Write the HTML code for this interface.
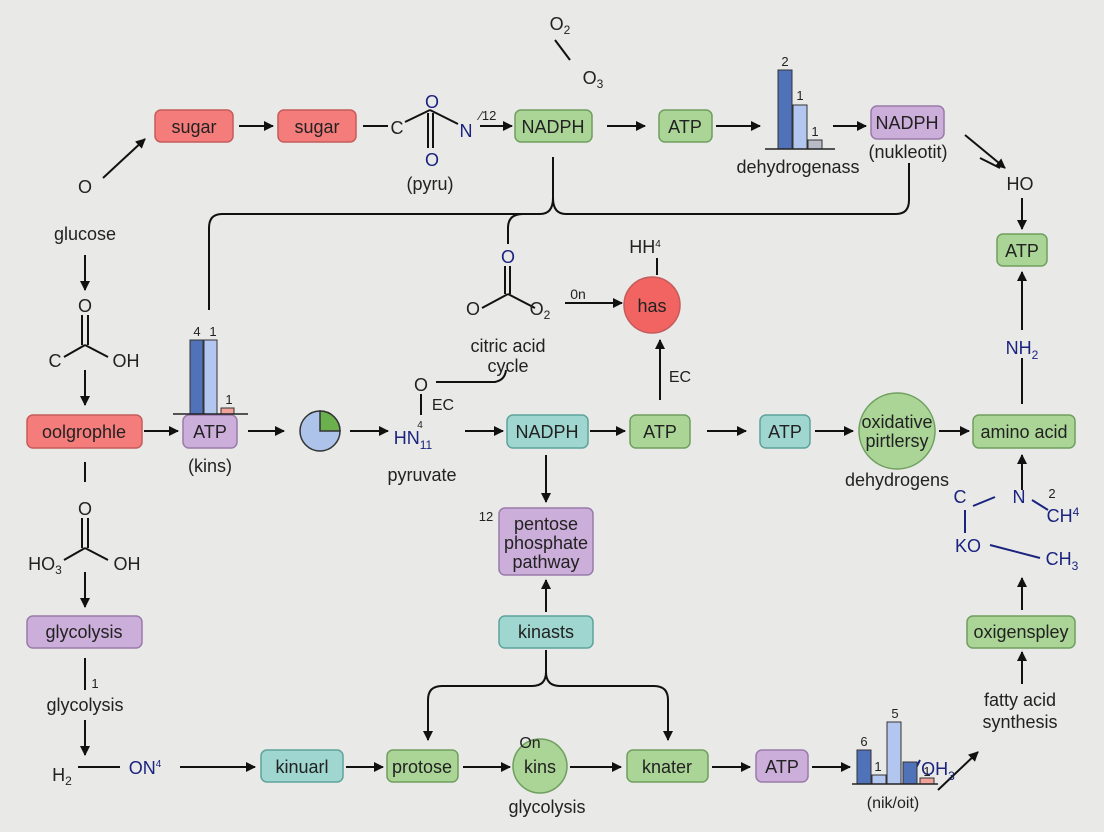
<!DOCTYPE html>
<html><head><meta charset="utf-8"><style>
html,body{margin:0;padding:0;background:#e9e9e8;}
svg{display:block}
text{font-family:"Liberation Sans",sans-serif;fill:#222;}
.b{fill:#1a237e}
</style></head><body>
<svg width="1104" height="832" viewBox="0 0 1104 832" xmlns="http://www.w3.org/2000/svg">
<defs>
<marker id="a" markerWidth="10" markerHeight="10" refX="9" refY="5" orient="auto" markerUnits="userSpaceOnUse"><path d="M0,0 L10,5 L0,10 z" fill="#111"/></marker>
</defs>
<rect width="1104" height="832" fill="#e9e9e8"/>
<g stroke="#111" stroke-width="2" fill="none">
<line x1="103" y1="178" x2="145" y2="139" marker-end="url(#a)"/>
<line x1="239" y1="126" x2="273" y2="126" marker-end="url(#a)"/>
<line x1="363" y1="126" x2="388" y2="126"/>
<line x1="405" y1="122" x2="430" y2="110"/>
<line x1="430" y1="110" x2="458" y2="124"/>
<line x1="428" y1="113" x2="428" y2="148"/><line x1="433" y1="113" x2="433" y2="148"/>
<line x1="480" y1="126" x2="512" y2="126" marker-end="url(#a)"/>
<line x1="607" y1="126" x2="645" y2="126" marker-end="url(#a)"/>
<line x1="716" y1="126" x2="760" y2="126" marker-end="url(#a)"/>
<line x1="833" y1="126" x2="866" y2="126" marker-end="url(#a)"/>
<line x1="965" y1="135" x2="1005" y2="168" marker-end="url(#a)"/>
<line x1="980" y1="158" x2="1000" y2="168"/>
<line x1="1022" y1="198" x2="1022" y2="229" marker-end="url(#a)"/>
<line x1="1022" y1="330" x2="1022" y2="272" marker-end="url(#a)"/>
<line x1="1022" y1="404" x2="1022" y2="358"/>
<path d="M553 157 V198 Q553 214 540 214 H222 Q209 214 209 228 V310"/>
<path d="M553 198 Q553 214 566 214 H896 Q909 214 909 200 V163"/>
<path d="M523 214 Q508 214 508 228 V244"/>
<line x1="555" y1="40" x2="570" y2="60"/>
<line x1="144" y1="431" x2="178" y2="431" marker-end="url(#a)"/>
<line x1="248" y1="431" x2="284" y2="431" marker-end="url(#a)"/>
<line x1="350" y1="431" x2="388" y2="431" marker-end="url(#a)"/>
<line x1="465" y1="431" x2="503" y2="431" marker-end="url(#a)"/>
<line x1="590" y1="431" x2="625" y2="431" marker-end="url(#a)"/>
<line x1="707" y1="431" x2="746" y2="431" marker-end="url(#a)"/>
<line x1="815" y1="431" x2="853" y2="431" marker-end="url(#a)"/>
<line x1="939" y1="431" x2="969" y2="431" marker-end="url(#a)"/>
<path d="M436 382 H495 Q505 380 506 370"/>
<line x1="421" y1="394" x2="421" y2="415"/>
<line x1="505" y1="266" x2="505" y2="294"/><line x1="510" y1="266" x2="510" y2="294"/>
<line x1="508" y1="294" x2="482" y2="308"/><line x1="508" y1="294" x2="535" y2="308"/>
<line x1="565" y1="303" x2="622" y2="303" marker-end="url(#a)"/>
<line x1="657" y1="258" x2="657" y2="275"/>
<line x1="660" y1="400" x2="660" y2="340" marker-end="url(#a)"/>
<line x1="85" y1="255" x2="85" y2="290" marker-end="url(#a)"/>
<line x1="82" y1="315" x2="82" y2="345"/><line x1="88" y1="315" x2="88" y2="345"/>
<line x1="85" y1="345" x2="64" y2="357"/><line x1="85" y1="345" x2="108" y2="357"/>
<line x1="85" y1="370" x2="85" y2="405" marker-end="url(#a)"/>
<line x1="85" y1="462" x2="85" y2="482"/>
<line x1="82" y1="518" x2="82" y2="548"/><line x1="88" y1="518" x2="88" y2="548"/>
<line x1="85" y1="548" x2="64" y2="560"/><line x1="85" y1="548" x2="108" y2="560"/>
<line x1="85" y1="572" x2="85" y2="607" marker-end="url(#a)"/>
<line x1="85" y1="658" x2="85" y2="690"/>
<line x1="85" y1="720" x2="85" y2="755" marker-end="url(#a)"/>
<line x1="78" y1="767" x2="120" y2="767"/>
<line x1="180" y1="767" x2="255" y2="767" marker-end="url(#a)"/>
<line x1="346" y1="767" x2="383" y2="767" marker-end="url(#a)"/>
<line x1="463" y1="767" x2="510" y2="767" marker-end="url(#a)"/>
<line x1="570" y1="767" x2="621" y2="767" marker-end="url(#a)"/>
<line x1="712" y1="767" x2="750" y2="767" marker-end="url(#a)"/>
<line x1="812" y1="767" x2="850" y2="767" marker-end="url(#a)"/>
<line x1="938" y1="790" x2="978" y2="752" marker-end="url(#a)"/>
<line x1="1022" y1="684" x2="1022" y2="652" marker-end="url(#a)"/>
<line x1="1022" y1="610" x2="1022" y2="578" marker-end="url(#a)"/>
<line x1="1022" y1="490" x2="1022" y2="455" marker-end="url(#a)"/>
<line x1="546" y1="455" x2="546" y2="502" marker-end="url(#a)"/>
<line x1="546" y1="612" x2="546" y2="580" marker-end="url(#a)"/>
<path d="M546 650 V672 Q546 686 532 686 H442 Q428 686 428 700 V740" marker-end="url(#a)"/>
<path d="M546 672 Q546 686 560 686 H654 Q668 686 668 700 V740" marker-end="url(#a)"/>
</g>
<g stroke="#1a237e" stroke-width="2" fill="none">
<line x1="973" y1="506" x2="995" y2="497"/>
<line x1="1032" y1="500" x2="1048" y2="510"/>
<line x1="965" y1="510" x2="965" y2="533"/>
<line x1="990" y1="545" x2="1040" y2="558"/>
<line x1="910" y1="780" x2="920" y2="760"/>
</g>
<g stroke-width="1.5">
<rect x="155" y="110" width="78" height="32" rx="6" fill="#f47c7a" stroke="#c45c5a"/>
<rect x="278" y="110" width="78" height="32" rx="6" fill="#f47c7a" stroke="#c45c5a"/>
<rect x="515" y="110" width="77" height="32" rx="6" fill="#abd597" stroke="#6f9f5e"/>
<rect x="659" y="110" width="53" height="32" rx="6" fill="#abd597" stroke="#6f9f5e"/>
<rect x="871" y="106" width="73" height="33" rx="6" fill="#cbaed9" stroke="#9a7aab"/>
<rect x="997" y="234" width="50" height="32" rx="6" fill="#abd597" stroke="#6f9f5e"/>
<rect x="27" y="415" width="115" height="33" rx="6" fill="#f47c7a" stroke="#c45c5a"/>
<rect x="183" y="415" width="54" height="33" rx="6" fill="#cbaed9" stroke="#9a7aab"/>
<rect x="507" y="415" width="81" height="33" rx="6" fill="#9fd6cf" stroke="#5ea39b"/>
<rect x="630" y="415" width="60" height="33" rx="6" fill="#abd597" stroke="#6f9f5e"/>
<rect x="760" y="415" width="50" height="33" rx="6" fill="#9fd6cf" stroke="#5ea39b"/>
<rect x="973" y="415" width="102" height="33" rx="6" fill="#abd597" stroke="#6f9f5e"/>
<rect x="499" y="508" width="94" height="67" rx="6" fill="#cbaed9" stroke="#9a7aab"/>
<rect x="499" y="616" width="94" height="32" rx="6" fill="#9fd6cf" stroke="#5ea39b"/>
<rect x="27" y="616" width="115" height="32" rx="6" fill="#cbaed9" stroke="#9a7aab"/>
<rect x="967" y="616" width="108" height="32" rx="6" fill="#abd597" stroke="#6f9f5e"/>
<rect x="261" y="750" width="82" height="32" rx="6" fill="#9fd6cf" stroke="#5ea39b"/>
<rect x="387" y="750" width="71" height="32" rx="6" fill="#abd597" stroke="#6f9f5e"/>
<rect x="627" y="750" width="81" height="32" rx="6" fill="#abd597" stroke="#6f9f5e"/>
<rect x="756" y="750" width="52" height="32" rx="6" fill="#cbaed9" stroke="#9a7aab"/>
<circle cx="897" cy="431" r="38" fill="#abd597" stroke="#6f9f5e"/>
<circle cx="652" cy="305" r="28" fill="#f26462" stroke="#c45c5a"/>
<circle cx="540" cy="766" r="27" fill="#abd597" stroke="#6f9f5e"/>
<circle cx="320" cy="431" r="20" fill="#adc3ea" stroke="#333"/>
<path d="M320 411 A20 20 0 0 1 340 431 L320 431 Z" fill="#6ab04c" stroke="#333"/>
</g>
<g stroke="#333" stroke-width="1">
<rect x="778" y="70" width="14" height="79" fill="#4f72b8"/>
<rect x="793" y="105" width="14" height="44" fill="#b3c6ef"/>
<rect x="808" y="140" width="14" height="9" fill="#b9bcc7"/>
<rect x="190" y="340" width="13" height="74" fill="#4f72b8"/>
<rect x="204" y="340" width="13" height="74" fill="#b3c6ef"/>
<rect x="221" y="408" width="13" height="6" fill="#f0a19a"/>
<rect x="857" y="750" width="14" height="34" fill="#4f72b8"/>
<rect x="872" y="775" width="14" height="9" fill="#b3c6ef"/>
<rect x="887" y="722" width="14" height="62" fill="#b3c6ef"/>
<rect x="903" y="762" width="14" height="22" fill="#4f72b8"/>
<rect x="920" y="778" width="14" height="6" fill="#f0a19a"/>
</g>
<g stroke="#222" stroke-width="1.5">
<line x1="765" y1="149" x2="835" y2="149"/>
<line x1="173" y1="414" x2="248" y2="414"/>
<line x1="852" y1="784" x2="938" y2="784"/>
</g>
<g font-size="18" text-anchor="middle">
<text x="194" y="133">sugar</text>
<text x="317" y="133">sugar</text>
<text x="553" y="133">NADPH</text>
<text x="685" y="133">ATP</text>
<text x="907" y="129">NADPH</text>
<text x="1022" y="257">ATP</text>
<text x="84" y="438">oolgrophle</text>
<text x="210" y="438">ATP</text>
<text x="547" y="438">NADPH</text>
<text x="660" y="438">ATP</text>
<text x="785" y="438">ATP</text>
<text x="1024" y="438">amino acid</text>
<text x="546" y="530">pentose</text>
<text x="546" y="549">phosphate</text>
<text x="546" y="568">pathway</text>
<text x="546" y="638">kinasts</text>
<text x="84" y="638">glycolysis</text>
<text x="1021" y="638">oxigenspley</text>
<text x="302" y="773">kinuarl</text>
<text x="422" y="773">protose</text>
<text x="540" y="773">kins</text>
<text x="667" y="773">knater</text>
<text x="782" y="773">ATP</text>
<text x="897" y="428">oxidative</text>
<text x="897" y="447">pirtlersy</text>
<text x="652" y="312">has</text>
<text x="85" y="193">O</text>
<text x="85" y="240">glucose</text>
<text x="85" y="312">O</text>
<text x="55" y="367">C</text>
<text x="126" y="367">OH</text>
<text x="85" y="515">O</text>
<text x="45" y="570">HO<tspan font-size="12" dy="4">3</tspan></text>
<text x="127" y="570">OH</text>
<text x="85" y="711">glycolysis</text>
<text x="62" y="781">H<tspan font-size="12" dy="4">2</tspan></text>
<text x="397" y="134">C</text>
<text x="430" y="190">(pyru)</text>
<text x="210" y="472">(kins)</text>
<text x="422" y="481">pyruvate</text>
<text x="421" y="391">O</text>
<text x="508" y="352">citric acid</text>
<text x="508" y="372">cycle</text>
<text x="473" y="315">O</text>
<text x="540" y="315">O<tspan font-size="12" dy="4">2</tspan></text>
<text x="645" y="253">HH<tspan font-size="10" dy="-6">4</tspan></text>
<text x="798" y="173">dehydrogenass</text>
<text x="908" y="158">(nukleotit)</text>
<text x="1020" y="190">HO</text>
<text x="897" y="486">dehydrogens</text>
<text x="547" y="813">glycolysis</text>
<text x="1020" y="706">fatty acid</text>
<text x="1020" y="728">synthesis</text>
<text x="893" y="808" font-size="16">(nik/oit)</text>
<text x="560" y="30">O<tspan font-size="12" dy="4">2</tspan></text>
<text x="593" y="84">O<tspan font-size="12" dy="4">3</tspan></text>
</g>
<g font-size="18" text-anchor="middle" class="b">
<text class="b" x="432" y="108">O</text>
<text class="b" x="432" y="166">O</text>
<text class="b" x="466" y="137">N</text>
<text class="b" x="508" y="263">O</text>
<text class="b" x="413" y="444">HN<tspan font-size="12" dy="5">11</tspan></text>
<text class="b" x="1022" y="354">NH<tspan font-size="12" dy="5">2</tspan></text>
<text class="b" x="960" y="503">C</text>
<text class="b" x="1019" y="503">N</text>
<text class="b" x="1063" y="522">CH<tspan font-size="12" dy="-6">4</tspan></text>
<text class="b" x="968" y="552">KO</text>
<text class="b" x="1062" y="565">CH<tspan font-size="12" dy="5">3</tspan></text>
<text class="b" x="145" y="774">ON<tspan font-size="10" dy="-7">4</tspan></text>
<text class="b" x="938" y="775">OH<tspan font-size="12" dy="5">3</tspan></text>
</g>
<g font-size="13" text-anchor="middle">
<text x="488" y="120">⁄12</text>
<text x="785" y="66">2</text>
<text x="800" y="100">1</text>
<text x="815" y="136">1</text>
<text x="197" y="336">4</text>
<text x="213" y="336">1</text>
<text x="229" y="404">1</text>
<text x="864" y="746">6</text>
<text x="878" y="771">1</text>
<text x="895" y="718">5</text>
<text x="927" y="776">1</text>
<text x="1052" y="498">2</text>
<text x="95" y="688">1</text>
<text x="486" y="521">12</text>
<text x="420" y="428" font-size="10">4</text>
<text x="578" y="299" font-size="14">0n</text>
<text x="443" y="410" font-size="16">EC</text>
<text x="680" y="382" font-size="16">EC</text>
<text x="530" y="748" font-size="16">On</text>
</g>
</svg>
</body></html>
